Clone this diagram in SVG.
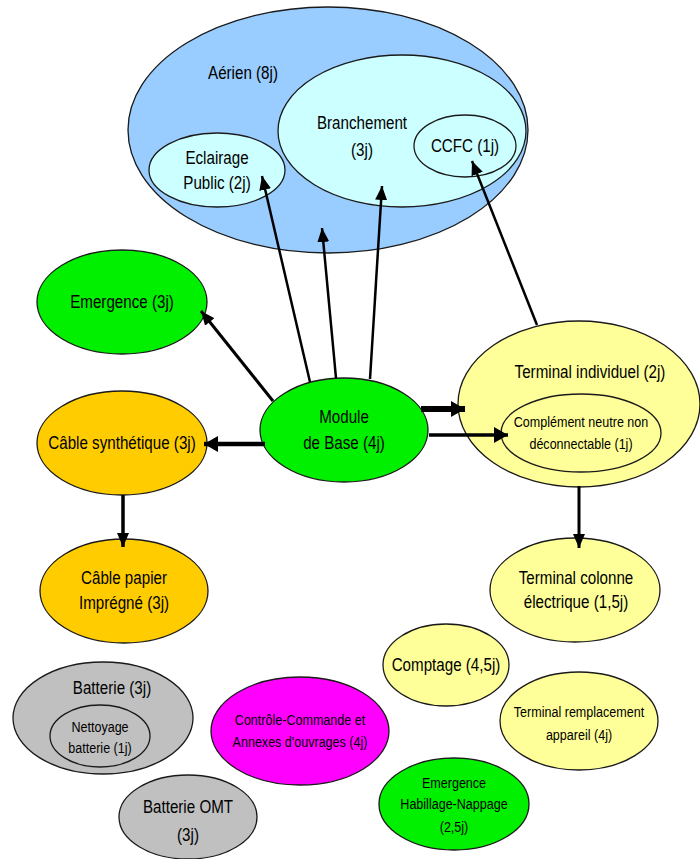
<svg xmlns="http://www.w3.org/2000/svg" width="700" height="859" viewBox="0 0 700 859">
<defs>
<marker id="ah" markerUnits="userSpaceOnUse" markerWidth="14" markerHeight="12" refX="14" refY="6" orient="auto"><path d="M0,0 L14,6 L0,12 Z" fill="#000"/></marker>
<marker id="ahb" markerUnits="userSpaceOnUse" markerWidth="14" markerHeight="16" refX="14" refY="8" orient="auto"><path d="M0,0 L14,8 L0,16 Z" fill="#000"/></marker>
</defs>
<style>
ellipse{stroke:#1a1a1a;stroke-width:1.3}
.blue{fill:#99ccff}.cyan{fill:#ccffff}.green{fill:#00f000}.orange{fill:#ffcc00}.yellow{fill:#ffff99}.gray{fill:#c0c0c0}.mag{fill:#ff00ff}
text{font-family:"Liberation Sans",Arial,sans-serif;fill:#000;text-anchor:middle}
.l{font-size:18.5px}.s{font-size:15.3px}
.c line{stroke:#000;fill:none}
</style>
<rect width="700" height="859" fill="#fff"/>
<g id="aerien"><ellipse class="blue" cx="328" cy="130" rx="200" ry="123"/><text class="l" transform="translate(243,79) scale(0.82,1)">Aérien (8j)</text></g>
<g id="branchement"><ellipse class="cyan" cx="402" cy="131" rx="124" ry="76"/><text class="l" transform="translate(362,129) scale(0.82,1)">Branchement</text><text class="l" transform="translate(362,156) scale(0.82,1)">(3j)</text></g>
<g id="ccfc"><ellipse class="cyan" cx="465" cy="146" rx="51" ry="31"/><text class="l" transform="translate(465,152) scale(0.82,1)">CCFC (1j)</text></g>
<g id="eclairage"><ellipse class="cyan" cx="217" cy="170" rx="68" ry="37"/><text class="l" transform="translate(217,164) scale(0.82,1)">Eclairage</text><text class="l" transform="translate(217,189) scale(0.82,1)">Public (2j)</text></g>
<g id="emergence"><ellipse class="green" cx="122" cy="302" rx="85" ry="52"/><text class="l" transform="translate(122,308) scale(0.82,1)">Emergence (3j)</text></g>
<g id="module"><ellipse class="green" cx="344" cy="430" rx="84" ry="52"/><text class="l" transform="translate(344,423) scale(0.82,1)">Module</text><text class="l" transform="translate(344,449) scale(0.82,1)">de Base (4j)</text></g>
<g id="cable-synth"><ellipse class="orange" cx="122" cy="443" rx="85" ry="52"/><text class="l" transform="translate(122,449) scale(0.82,1)">Câble synthétique (3j)</text></g>
<g id="cable-papier"><ellipse class="orange" cx="124" cy="591" rx="84" ry="52"/><text class="l" transform="translate(124,584) scale(0.82,1)">Câble papier</text><text class="l" transform="translate(124,609) scale(0.82,1)">Imprégné (3j)</text></g>
<g id="terminal-individuel"><ellipse class="yellow" cx="579" cy="404" rx="121" ry="83"/><text class="l" transform="translate(590,378) scale(0.82,1)">Terminal individuel (2j)</text></g>
<g id="complement"><ellipse class="yellow" cx="581" cy="433" rx="80" ry="39"/><text class="s" transform="translate(581,427) scale(0.82,1)">Complément neutre non</text><text class="s" transform="translate(581,449) scale(0.82,1)">déconnectable (1j)</text></g>
<g id="terminal-colonne"><ellipse class="yellow" cx="575" cy="590" rx="85" ry="52"/><text class="l" transform="translate(576,584) scale(0.82,1)">Terminal colonne</text><text class="l" transform="translate(576,608) scale(0.82,1)">électrique (1,5j)</text></g>
<g id="comptage"><ellipse class="yellow" cx="446" cy="665" rx="63" ry="41"/><text class="l" transform="translate(446,671) scale(0.82,1)">Comptage (4,5j)</text></g>
<g id="terminal-remplacement"><ellipse class="yellow" cx="579" cy="721" rx="79" ry="49"/><text class="s" transform="translate(579,717) scale(0.82,1)">Terminal remplacement</text><text class="s" transform="translate(579,740) scale(0.82,1)">appareil (4j)</text></g>
<g id="batterie"><ellipse class="gray" cx="103" cy="718" rx="90" ry="56"/><text class="l" transform="translate(112,694) scale(0.82,1)">Batterie (3j)</text></g>
<g id="nettoyage"><ellipse class="gray" cx="100" cy="736" rx="50" ry="31"/><text class="s" transform="translate(100,732) scale(0.82,1)">Nettoyage</text><text class="s" transform="translate(100,753) scale(0.82,1)">batterie (1j)</text></g>
<g id="controle"><ellipse class="mag" cx="300" cy="731" rx="89" ry="54"/><text class="s" transform="translate(300,725) scale(0.82,1)">Contrôle-Commande et</text><text class="s" transform="translate(300,747) scale(0.82,1)">Annexes d'ouvrages (4j)</text></g>
<g id="batterie-omt"><ellipse class="gray" cx="188" cy="817" rx="69" ry="42"/><text class="l" transform="translate(188,813) scale(0.82,1)">Batterie OMT</text><text class="l" transform="translate(188,841) scale(0.82,1)">(3j)</text></g>
<g id="emergence-habillage"><ellipse class="green" cx="454" cy="804" rx="75" ry="46"/><text class="s" transform="translate(454,788) scale(0.82,1)">Emergence</text><text class="s" transform="translate(454,809) scale(0.82,1)">Habillage-Nappage</text><text class="s" transform="translate(454,832) scale(0.82,1)">(2,5j)</text></g>
<g id="connectors" class="c">
<line x1="310" y1="382" x2="262" y2="176" stroke-width="2.5" marker-end="url(#ah)"/>
<line x1="336" y1="378" x2="322" y2="228" stroke-width="2.5" marker-end="url(#ah)"/>
<line x1="370" y1="379" x2="382" y2="186" stroke-width="2.5" marker-end="url(#ah)"/>
<line x1="537" y1="325" x2="472" y2="161" stroke-width="2.5" marker-end="url(#ah)"/>
<line x1="273" y1="401" x2="201" y2="311" stroke-width="3" marker-end="url(#ah)"/>
<line x1="265" y1="444" x2="204" y2="444" stroke-width="4.5" marker-end="url(#ahb)"/>
<line x1="421" y1="409" x2="465" y2="409" stroke-width="6" marker-end="url(#ahb)"/>
<line x1="429" y1="435" x2="508" y2="435" stroke-width="3.5" marker-end="url(#ahb)"/>
<line x1="123" y1="495" x2="123" y2="547" stroke-width="3.5" marker-end="url(#ah)"/>
<line x1="579" y1="486" x2="579" y2="548" stroke-width="3" marker-end="url(#ah)"/>
</g>
</svg>
